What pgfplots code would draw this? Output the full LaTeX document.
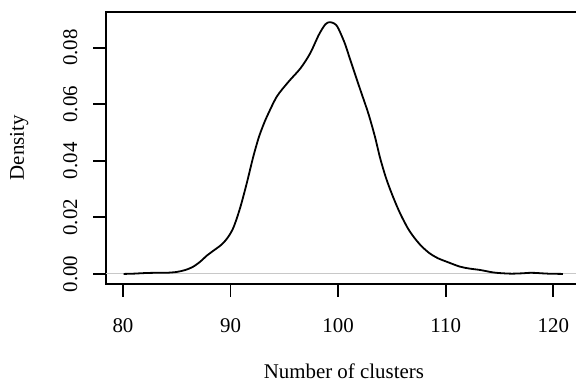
\documentclass[border=0pt]{standalone}
\usepackage{pgfplots}
\pgfplotsset{compat=1.18}
\usepackage{fontspec}
\setmainfont{Liberation Serif}
\begin{document}
\fontsize{10.45bp}{12bp}\selectfont
\begin{tikzpicture}
\begin{axis}[
  at={(0,0)}, anchor=south west,
  scale only axis,
  width=237.85bp, height=136.15bp,
  xmin=78.42, xmax=122.64,
  ymin=-0.00356, ymax=0.0927,
  axis line style={line width=0.9bp},
  every tick/.style={black, line width=0.9bp},
  tick align=outside,
  xtick pos=bottom, ytick pos=left,
  major tick length=6.35bp,
  xtick={80,90,100,110,120},
  xticklabels={80,90,100,110,120},
  ytick={0,0.02,0.04,0.06,0.08},
  yticklabels={0.00,0.02,0.04,0.06,0.08},
  scaled y ticks=false, scaled x ticks=false,
  xticklabel style={anchor=north, inner sep=0pt},
  xticklabel shift=10.6bp,
  yticklabel style={rotate=90, anchor=south, inner sep=0pt},
  yticklabel shift=7.75bp,
  /pgf/number format/assume math mode=true,
  xlabel={Number of clusters},
  ylabel={Density},
  xlabel style={at={(axis description cs:0.5,-0.3452)}, anchor=base, inner sep=0pt},
  ylabel style={at={(axis description cs:-0.1724,0.5)}, anchor=base, inner sep=0pt, rotate=0},
  clip=true,
]
\addplot[color={rgb,255:red,200;green,200;blue,200}, line width=0.5bp] coordinates {(78.42,0) (122.64,0)};
\addplot[black, line width=0.9bp, smooth, tension=0.5] coordinates {
(80.06,0.0000) (81.0,0.0001) (82.0,0.0003) (83.0,0.0004) (84.0,0.0004)
(85.0,0.0007) (85.8,0.0014) (86.5,0.0025) (87.2,0.0044) (87.8,0.0065)
(88.4,0.0082) (89.2,0.0105) (89.8,0.0132) (90.3,0.0167) (90.9,0.0235)
(91.5,0.0320) (92.1,0.0413) (92.6,0.0480) (93.0,0.0522) (93.4,0.0558)
(94.3,0.0627) (95.4,0.0680) (96.5,0.0727) (97.4,0.0780) (98.2,0.0845)
(98.8,0.0882) (99.2,0.0890) (99.6,0.0886) (99.9,0.0876) (100.2,0.0853)
(100.65,0.0812) (101.1,0.0760) (102.05,0.0652) (102.8,0.0568) (103.4,0.0488)
(103.9,0.0410) (104.4,0.0345) (104.85,0.0297) (105.4,0.0245) (105.9,0.0203)
(106.5,0.0160) (107.0,0.0132) (107.7,0.0100) (108.5,0.0073) (109.3,0.0055)
(110.1,0.0043) (111.3,0.0026) (112.2,0.0019) (113.2,0.0014) (114.0,0.0008)
(114.7,0.0004) (116.0,0.0001) (117.0,0.0002) (117.9,0.0004) (118.6,0.0003)
(119.5,0.0001) (120.9,0.0000)
};
\end{axis}
\pgfresetboundingbox
\path[use as bounding box] (-53bp,-48.5bp) rectangle (235bp,142bp);
\end{tikzpicture}
\end{document}
